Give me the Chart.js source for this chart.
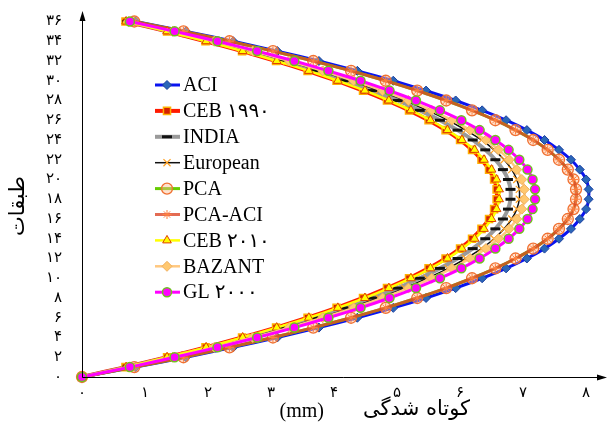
<!DOCTYPE html>
<html>
<head>
<meta charset="utf-8">
<script src="https://cdn.jsdelivr.net/npm/chart.js@4.4.1/dist/chart.umd.min.js"></script>
<style>
    html, body { margin: 0; padding: 0; background: #fff; }
    #wrap { width: 613px; height: 430px; }
</style>
</head>
<body>
<div id="wrap"><canvas id="chartShort" width="613" height="430"></canvas></div>
<script>
// DATA
var floors = [0, 1, 2, 3, 4, 5, 6, 7, 8, 9, 10, 11, 12, 13, 14, 15, 16, 17, 18,
    19, 20, 21, 22, 23, 24, 25, 26, 27, 28, 29, 30, 31, 32, 33, 34, 35, 36];

var aci = [0, 0.85, 1.65, 2.40, 3.10, 3.76, 4.37, 4.94, 5.46, 5.93, 6.35, 6.73, 7.06, 7.34, 7.57, 7.76, 7.90, 8.00, 8.04,
    8.04, 8.00, 7.90, 7.76, 7.57, 7.34, 7.06, 6.73, 6.35, 5.93, 5.46, 4.94, 4.37, 3.76, 3.10, 2.40, 1.65, 0.85];
var ceb1990 = [0, 0.69, 1.35, 1.96, 2.54, 3.08, 3.58, 4.04, 4.46, 4.84, 5.19, 5.50, 5.77, 6.00, 6.19, 6.34, 6.46, 6.54, 6.58,
    6.58, 6.54, 6.46, 6.34, 6.19, 6.00, 5.77, 5.50, 5.19, 4.84, 4.46, 4.04, 3.58, 3.08, 2.54, 1.96, 1.35, 0.69];
var india = [0, 0.72, 1.39, 2.03, 2.62, 3.18, 3.70, 4.17, 4.61, 5.01, 5.36, 5.68, 5.96, 6.20, 6.40, 6.56, 6.68, 6.76, 6.80,
    6.80, 6.76, 6.68, 6.56, 6.40, 6.20, 5.96, 5.68, 5.36, 5.01, 4.61, 4.17, 3.70, 3.18, 2.62, 2.03, 1.39, 0.72];
var european = [0, 0.73, 1.42, 2.07, 2.68, 3.25, 3.78, 4.26, 4.71, 5.12, 5.48, 5.81, 6.09, 6.34, 6.54, 6.70, 6.82, 6.90, 6.94,
    6.94, 6.90, 6.82, 6.70, 6.54, 6.34, 6.09, 5.81, 5.48, 5.12, 4.71, 4.26, 3.78, 3.25, 2.68, 2.07, 1.42, 0.73];
var pca = [0, 0.83, 1.61, 2.34, 3.03, 3.67, 4.27, 4.82, 5.32, 5.78, 6.19, 6.56, 6.88, 7.16, 7.39, 7.57, 7.71, 7.80, 7.84,
    7.84, 7.80, 7.71, 7.57, 7.39, 7.16, 6.88, 6.56, 6.19, 5.78, 5.32, 4.82, 4.27, 3.67, 3.03, 2.34, 1.61, 0.83];
var pcaAci = [0, 0.83, 1.61, 2.34, 3.03, 3.67, 4.27, 4.82, 5.32, 5.78, 6.19, 6.56, 6.88, 7.16, 7.39, 7.57, 7.71, 7.80, 7.84,
    7.84, 7.80, 7.71, 7.57, 7.39, 7.16, 6.88, 6.56, 6.19, 5.78, 5.32, 4.82, 4.27, 3.67, 3.03, 2.34, 1.61, 0.83];
var ceb2010 = [0, 0.70, 1.35, 1.97, 2.55, 3.09, 3.60, 4.06, 4.49, 4.87, 5.22, 5.53, 5.80, 6.03, 6.23, 6.38, 6.50, 6.58, 6.62,
    6.62, 6.58, 6.50, 6.38, 6.23, 6.03, 5.80, 5.53, 5.22, 4.87, 4.49, 4.06, 3.60, 3.09, 2.55, 1.97, 1.35, 0.70];
var bazant = [0, 0.74, 1.44, 2.10, 2.71, 3.29, 3.82, 4.31, 4.77, 5.18, 5.55, 5.87, 6.16, 6.41, 6.61, 6.78, 6.90, 6.98, 7.02,
    7.02, 6.98, 6.90, 6.78, 6.61, 6.41, 6.16, 5.87, 5.55, 5.18, 4.77, 4.31, 3.82, 3.29, 2.71, 2.10, 1.44, 0.74];
var gl2000 = [0, 0.76, 1.47, 2.15, 2.78, 3.37, 3.91, 4.42, 4.88, 5.30, 5.68, 6.02, 6.31, 6.56, 6.77, 6.94, 7.07, 7.15, 7.19,
    7.19, 7.15, 7.07, 6.94, 6.77, 6.56, 6.31, 6.02, 5.68, 5.30, 4.88, 4.42, 3.91, 3.37, 2.78, 2.15, 1.47, 0.76];

var seriesNames = ['ACI', 'CEB ۱۹۹۰', 'INDIA', 'European', 'PCA', 'PCA-ACI', 'CEB ۲۰۱۰', 'BAZANT', 'GL ۲۰۰۰'];

var xTicks = [0, 1, 2, 3, 4, 5, 6, 7, 8];
var xTickLabels = ['۰', '۱', '۲', '۳', '۴', '۵', '۶', '۷', '۸'];
var yTicks = [0, 2, 4, 6, 8, 10, 12, 14, 16, 18, 20, 22, 24, 26, 28, 30, 32, 34, 36];
var yTickLabels = ['۰', '۲', '۴', '۶', '۸', '۱۰', '۱۲', '۱۴', '۱۶', '۱۸', '۲۰', '۲۲', '۲۴', '۲۶', '۲۸', '۳۰', '۳۲', '۳۴', '۳۶'];

var xTitleWord = 'کوتاه شدگی';
var xTitleUnit = '(mm)';
var yTitle = 'طبقات';

function toPoints(values) {
    return values.map(function (v, i) {
        return {x: v, y: floors[i]};
    });
}

// styles per series, same order as seriesNames
var styles = [
    {line: '#0a14f0', width: 3, point: 'rectRot', r: 4.5, fill: '#2a66b8', edge: '#1a3fa0', bw: 1},
    {line: '#ff1a00', width: 4, point: 'rect', r: 5, fill: '#d42000', edge: '#ffb000', bw: 1.5},
    {line: '#9a9a9a', width: 4, point: 'line', r: 5, fill: '#111', edge: '#111', bw: 3},
    {line: '#111111', width: 1.5, point: 'crossRot', r: 5, fill: '#ffa020', edge: '#ffa020', bw: 1.2},
    {line: '#66cc00', width: 3, point: 'circle', r: 5.5, fill: 'rgba(255,190,150,0.45)', edge: '#f07030', bw: 1.3},
    {line: 'rgba(220,70,40,0.8)', width: 3, point: 'star', r: 4.5, fill: '#ff8040', edge: '#ff8040', bw: 1},
    {line: '#ffff00', width: 2.5, point: 'triangle', r: 5, fill: '#ffff00', edge: '#e04000', bw: 1},
    {line: '#ffc880', width: 2.5, point: 'rectRot', r: 5, fill: '#ffc870', edge: '#f0b060', bw: 1},
    {line: '#ff00ff', width: 3, point: 'circle', r: 4.5, fill: '#ff00ff', edge: '#70c020', bw: 1.5}
];

var allValues = [aci, ceb1990, india, european, pca, pcaAci, ceb2010, bazant, gl2000];

var datasets = allValues.map(function (vals, i) {
    var s = styles[i];
    return {
        label: seriesNames[i],
        data: toPoints(vals),
        showLine: true,
        tension: 0.15,
        borderColor: s.line,
        borderWidth: s.width,
        pointStyle: s.point,
        pointRadius: s.r,
        pointBackgroundColor: s.fill,
        pointBorderColor: s.edge,
        pointBorderWidth: s.bw,
        clip: false,
        order: allValues.length - i
    };
});

// draws arrows, axis titles and the legend box inside the plot
var extras = {
    id: 'extras',
    afterDraw: function (chart) {
        var ctx = chart.ctx;
        var a = chart.chartArea;
        var x0 = Math.round(a.left) + 0.5;
        var y0 = Math.round(a.bottom) + 0.5;
        ctx.save();
        ctx.strokeStyle = '#000';
        ctx.fillStyle = '#000';
        ctx.lineWidth = 1;
        ctx.beginPath();
        ctx.moveTo(x0, y0);
        ctx.lineTo(x0, 13);
        ctx.moveTo(x0, y0);
        ctx.lineTo(604, y0);
        ctx.stroke();
        // arrow heads
        ctx.beginPath();
        ctx.moveTo(x0, 11);
        ctx.lineTo(x0 - 3, 21);
        ctx.lineTo(x0 + 3, 21);
        ctx.closePath();
        ctx.fill();
        ctx.beginPath();
        ctx.moveTo(607, y0);
        ctx.lineTo(597, y0 - 3);
        ctx.lineTo(597, y0 + 3);
        ctx.closePath();
        ctx.fill();

        // titles
        ctx.textBaseline = 'middle';
        ctx.font = '20px "Liberation Serif"';
        ctx.textAlign = 'right';
        ctx.fillText(xTitleUnit, 324, 412);
        ctx.font = '21px "DejaVu Sans"';
        ctx.direction = 'rtl';
        ctx.textAlign = 'right';
        ctx.fillText(xTitleWord, 470, 410);
        ctx.textAlign = 'center';
        ctx.save();
        ctx.translate(19, 206);
        ctx.rotate(-Math.PI / 2);
        ctx.fillText(yTitle, 0, 0);
        ctx.restore();
        ctx.direction = 'ltr';

        // legend
        ctx.font = '20px "Liberation Serif", "DejaVu Sans"';
        ctx.textAlign = 'left';
        for (var i = 0; i < datasets.length; i++) {
            var ds = datasets[i];
            var ly = 85 + i * 25.9;
            ctx.strokeStyle = ds.borderColor;
            ctx.lineWidth = ds.borderWidth;
            ctx.beginPath();
            ctx.moveTo(155, ly);
            ctx.lineTo(180, ly);
            ctx.stroke();
            ctx.fillStyle = ds.pointBackgroundColor;
            ctx.strokeStyle = ds.pointBorderColor;
            ctx.lineWidth = ds.pointBorderWidth;
            Chart.helpers.drawPoint(ctx, {
                pointStyle: ds.pointStyle,
                radius: ds.pointRadius,
                rotation: 0,
                borderWidth: ds.pointBorderWidth
            }, 167, ly);
            ctx.fillStyle = '#000';
            ctx.fillText(ds.label, 183, ly + 1);
        }
        ctx.restore();
    }
};

// CHART
var ctxShort = document.getElementById('chartShort').getContext('2d');
var chartShort = new Chart(ctxShort, {
    type: 'scatter',
    data: {datasets: datasets},
    options: {
        responsive: false,
        animation: false,
        layout: {padding: {top: 14, right: 7, left: 0, bottom: 0}},
        plugins: {
            legend: {display: false},
            tooltip: {enabled: false}
        },
        scales: {
            x: {
                type: 'linear',
                min: 0,
                max: 8.3,
                grid: {display: false},
                border: {display: false},
                afterBuildTicks: function (scale) {
                    scale.ticks = xTicks.map(function (v) { return {value: v}; });
                },
                afterFit: function (scale) {
                    scale.height = 53;
                },
                ticks: {
                    padding: 1,
                    autoSkip: false,
                    color: '#000',
                    maxRotation: 0,
                    font: {family: '"DejaVu Sans"', size: 15, lineHeight: 1},
                    callback: function (value, index) {
                        return xTickLabels[index];
                    }
                }
            },
            y: {
                type: 'linear',
                min: 0,
                max: 36.2,
                grid: {display: false},
                border: {display: false},
                afterBuildTicks: function (scale) {
                    scale.ticks = yTicks.map(function (v) { return {value: v}; });
                },
                afterFit: function (scale) {
                    scale.width = 82;
                },
                ticks: {
                    padding: 12,
                    autoSkip: false,
                    color: '#000',
                    font: {family: '"DejaVu Sans"', size: 15, lineHeight: 1},
                    callback: function (value, index) {
                        return yTickLabels[index];
                    }
                }
            }
        }
    },
    plugins: [extras]
});
</script>
</body>
</html>
